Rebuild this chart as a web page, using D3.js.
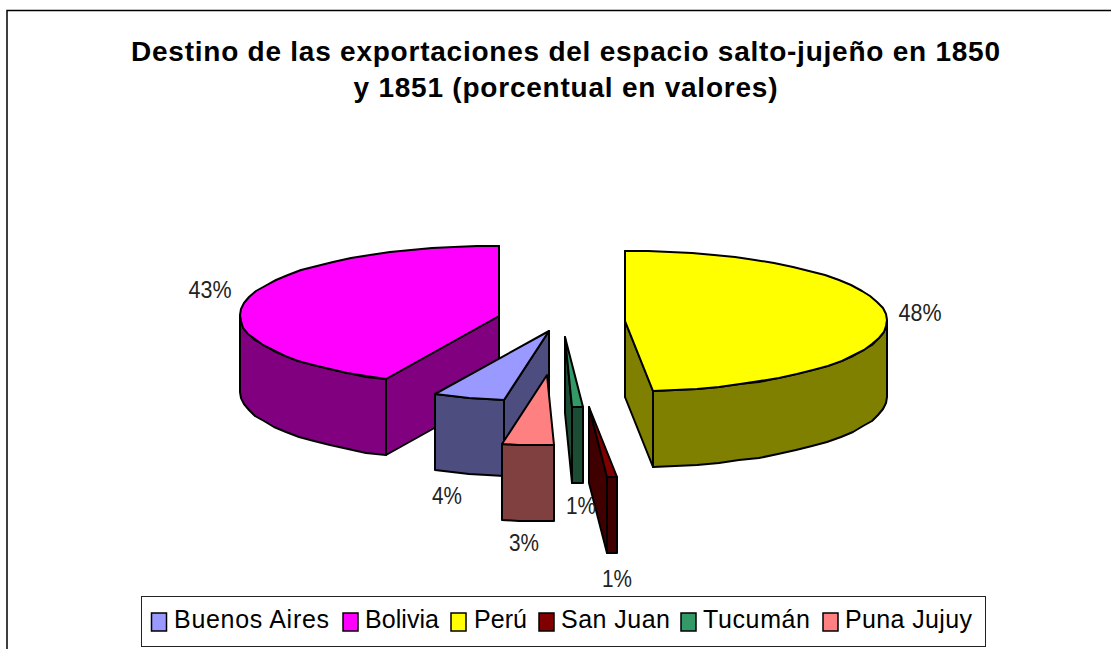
<!DOCTYPE html>
<html><head><meta charset="utf-8">
<script src="https://cdn.jsdelivr.net/npm/d3@7"></script>
<style>html,body{margin:0;padding:0;background:#fff}svg{display:block}text{font-family:"Liberation Sans",Arial,sans-serif}</style>
</head><body><div id="c"></div>
<script>
const titleLines=["Destino de las exportaciones del espacio salto-jujeño en 1850","y 1851 (porcentual en valores)"];
const categories=["Buenos Aires","Bolivia","Perú","San Juan","Tucumán","Puna Jujuy"];
const values=[4.45,42.8,48.3,0.6,0.7,3.15];
const topColors=["#9999ff","#ff00ff","#ffff00","#800000","#339966","#ff8080"];
const sideColors=["#4d4d80","#800080","#808000","#400000","#1a4d33","#804040"];
// exploded-slice layout, relative to the pie centre
const explodeX=[-13,-63,63,27,3,-15];
const explodeY=[12,-3,2,88,18,56];
const radiusX=[260,259,262,260,260,260];
const labelPos=[[447,504],[210,298],[920,321],[617,587],[581,514],[524,551]];
const paintOrder=[1,2,4,3,0,5];
const titleWidths=[869,424];
const legendWidths=[155,74,53,109,107,127];

const W=1111,H=649,cx=562,cy=319,ry=70.5,depth=76;
const firstSlice=(360-(values[0]+values[1])*3.6)*Math.PI/180;
const svg=d3.select("#c").append("svg").attr("width",W).attr("height",H);
svg.append("rect").attr("x",7).attr("y",10.5).attr("width",1140).attr("height",700).attr("fill","#fff").attr("stroke","#000").attr("stroke-width",1.5);
titleLines.forEach((s,i)=>svg.append("text").attr("x",565.5).attr("y",61+i*36).attr("text-anchor","middle")
 .attr("font-size",28).attr("font-weight","bold").attr("fill","#000")
 .attr("textLength",titleWidths[i]).attr("lengthAdjust","spacing").text(s));

const arcs=d3.pie().sort(null).startAngle(firstSlice).endAngle(firstSlice+2*Math.PI)(values);
const fmt=d3.format(".0%"),total=d3.sum(values);
const line=d3.line();
const pathOf=pts=>line(pts)+"Z";
paintOrder.forEach(i=>{
 const a=arcs[i],ox=cx+explodeX[i],oy=cy+explodeY[i],rx=radiusX[i];
 const pt=(th,d=0)=>[Math.round(ox+rx*Math.sin(th)),Math.round(oy-ry*Math.cos(th)+d)];
 const ap=(d=0)=>[ox,oy+d];
 const sample=(a0,a1)=>{const n=Math.max(1,Math.ceil((a1-a0)/(5*Math.PI/180)));return d3.range(n+1).map(k=>a0+(a1-a0)*k/n)};
 const g=svg.append("g").attr("stroke","#000").attr("stroke-width",2).attr("stroke-linejoin","round");
 const radial=th=>g.append("path").attr("d",pathOf([ap(),pt(th),pt(th,depth),ap(depth)])).attr("fill",sideColors[i]);
 if(Math.sin(a.startAngle)<1e-6)radial(a.startAngle);
 if(Math.sin(a.endAngle)>-1e-6)radial(a.endAngle);
 // outer wall: the part of the rim that faces the viewer
 [[Math.PI/2,3*Math.PI/2],[Math.PI/2+2*Math.PI,3*Math.PI/2+2*Math.PI]].forEach(([lo,hi])=>{
  const a0=Math.max(a.startAngle,lo),a1=Math.min(a.endAngle,hi);
  if(a1>a0){const ss=sample(a0,a1);
   g.append("path").attr("d",pathOf([...ss.map(th=>pt(th)),...ss.slice().reverse().map(th=>pt(th,depth))])).attr("fill",sideColors[i]);}
 });
 g.append("path").attr("d",pathOf([ap(),...sample(a.startAngle,a.endAngle).map(th=>pt(th))])).attr("fill",topColors[i]);
});
categories.forEach((c,i)=>{
 const s=fmt(values[i]/total);
 svg.append("text").attr("x",labelPos[i][0]).attr("y",labelPos[i][1]).attr("text-anchor","middle").attr("font-size",23.5)
  .attr("lengthAdjust","spacingAndGlyphs").attr("fill","#222")
  .attr("textLength",s.length===3?43:30).text(s);
});
// legend
const lg=svg.append("g");
lg.append("rect").attr("x",141.5).attr("y",596.5).attr("width",844).attr("height",50).attr("fill","#fff").attr("stroke","#222");
const legX=[151.5,343,451,539,681,823],txtX=[174,365,474,561,703,845];
categories.forEach((c,i)=>{
 lg.append("rect").attr("x",legX[i]).attr("y",613).attr("width",15).attr("height",18).attr("fill",topColors[i]).attr("stroke","#000").attr("stroke-width",1.5);
 lg.append("text").attr("x",txtX[i]).attr("y",628).attr("font-size",25).attr("fill","#000")
  .attr("textLength",legendWidths[i]).attr("lengthAdjust","spacing").text(c);
});
</script></body></html>
